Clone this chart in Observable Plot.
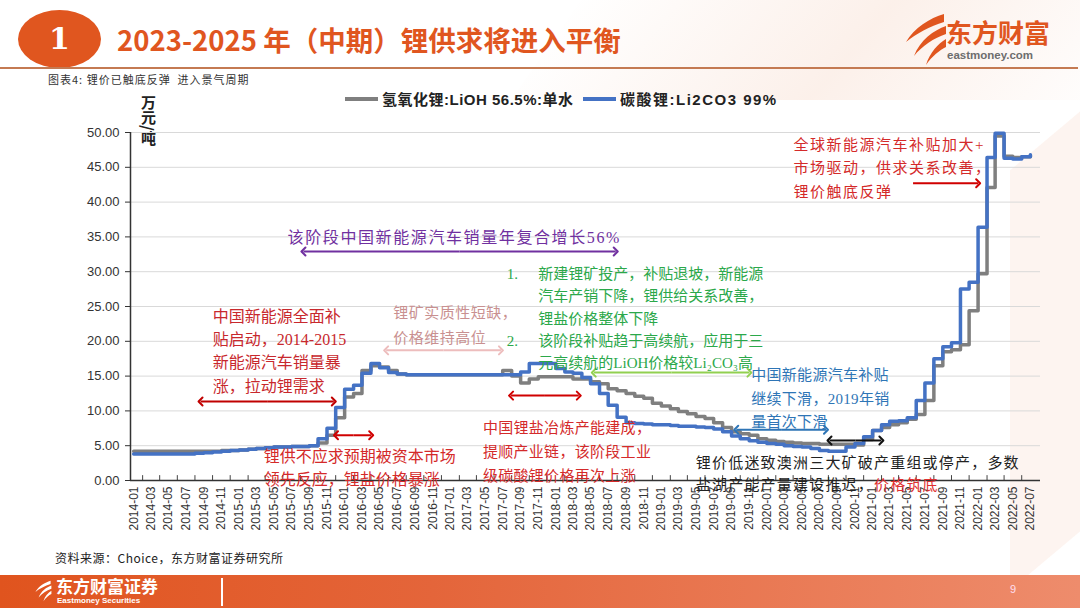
<!DOCTYPE html>
<html><head><meta charset="utf-8">
<script src="https://cdn.jsdelivr.net/npm/d3@7"></script>
<script src="https://cdn.jsdelivr.net/npm/@observablehq/plot@0.6"></script>
<style>
body{margin:0;background:#fff;}
#page{position:relative;width:1080px;height:608px;overflow:hidden;background:#fff;font-family:"Noto Sans CJK SC","Liberation Sans",sans-serif;}
.abs{position:absolute;}
#chart svg{position:absolute;left:0;top:0;}
</style></head><body><div id="page">
<div class="abs" style="left:560px;top:-40px;width:620px;height:140px;background:linear-gradient(100deg,rgba(250,230,220,0) 0%,rgba(248,222,208,0.45) 50%,rgba(250,230,220,0) 100%);transform:skewX(-35deg);"></div>
<div class="abs" style="left:1010px;top:120px;width:120px;height:420px;background:rgba(248,224,212,0.35);transform:skewY(-40deg);"></div>
<div class="abs" style="left:18px;top:10px;width:83px;height:58px;border-radius:50%;background:#E0561F;color:#fff;font-family:'DejaVu Serif','Liberation Serif',serif;font-weight:bold;font-size:30px;line-height:58px;text-align:center;">1</div>
<div class="abs" style="left:117px;top:19px;font-size:27.5px;font-weight:bold;color:#E0561F;white-space:nowrap;">2023-2025 年（中期）锂供求将进入平衡</div>
<svg class="abs" style="left:900px;top:12px;" width="50" height="55" viewBox="0 0 50 55">
<path d="M44,2 C30,6 14,16 6,30 C16,22 30,14 44,10 Z" fill="#E0561F"/>
<path d="M46,14 C34,18 20,28 14,44 C22,34 34,26 46,22 Z" fill="#E0561F"/>
<path d="M46,27 C38,32 30,40 26,53 C32,44 40,38 46,35 Z" fill="#E0561F"/>
</svg>
<div class="abs" style="left:946px;top:16px;font-size:26px;font-weight:bold;color:#E0561F;white-space:nowrap;line-height:32px;">东方财富</div>
<div class="abs" style="left:947px;top:49px;font-family:'Liberation Sans',sans-serif;font-size:11.5px;font-weight:bold;color:#6d6d6d;white-space:nowrap;">eastmoney.com</div>
<div class="abs" style="left:0;top:67px;width:1078px;height:1.5px;background:#C47A52;"></div>
<div class="abs" style="left:48px;top:71px;font-size:11px;color:#333;white-space:nowrap;letter-spacing:1px;">图表4: 锂价已触底反弹&nbsp;&nbsp;进入景气周期</div>
<div id="legend"></div>
<div class="abs" style="left:139px;top:95px;writing-mode:vertical-rl;font-size:15px;font-weight:bold;color:#222;line-height:18px;">万元/吨</div>
<div id="chart" class="abs" style="left:0;top:0;width:1080px;height:560px;"></div>
<div class="abs" style="left:55px;top:549px;font-size:12px;color:#222;white-space:nowrap;letter-spacing:0.5px;">资料来源：Choice，东方财富证券研究所</div>
<div class="abs" style="left:0;top:575px;width:1080px;height:33px;background:linear-gradient(90deg,#E0541E 0%,#E4653A 40%,#EE8C6C 100%);"></div>
<svg class="abs" style="left:33px;top:578px;" width="20" height="26" viewBox="0 0 50 55">
<path d="M44,2 C30,6 14,16 6,30 C16,22 30,14 44,10 Z" fill="#fff"/>
<path d="M46,14 C34,18 20,28 14,44 C22,34 34,26 46,22 Z" fill="#fff"/>
<path d="M46,27 C38,32 30,40 26,53 C32,44 40,38 46,35 Z" fill="#fff"/>
</svg>
<div class="abs" style="left:56px;top:576px;font-size:17px;font-weight:bold;color:#fff;white-space:nowrap;line-height:20px;">东方财富证券</div>
<div class="abs" style="left:57px;top:596px;font-family:'Liberation Sans',sans-serif;font-size:8px;font-weight:bold;color:#fff;white-space:nowrap;">Eastmoney Securities</div>
<div class="abs" style="left:221px;top:578px;width:2px;height:28px;background:#fff;"></div>
<div class="abs" style="left:1010px;top:583px;font-family:'Liberation Sans',sans-serif;font-size:11px;color:#fde;">9</div>
</div>
<script>
// ---- data (monthly, 2014-01 .. 2022-07), 万元/吨 ----
const firstMonth = [2014, 0];
const li2co3 = [
  3.8,3.8,3.8,3.8,3.8,3.8,3.8,
  3.9,4.0,4.1,4.2,4.3,4.4,4.5,4.6,4.7,4.8,4.8,4.9,4.9,
  5.0,6.0,7.5,10.5,13.1,13.7,15.4,16.8,16.2,15.5,15.3,
  15.2,15.2,15.2,15.2,15.2,15.2,15.2,15.2,15.2,15.2,15.2,
  15.2,15.2,15.6,16.8,16.8,16.8,16.1,15.6,15.4,14.8,
  13.9,12.5,10.8,9.1,8.3,8.2,8.1,8.0,8.0,7.9,
  7.8,7.8,7.7,7.6,7.4,7.0,6.4,6.0,5.7,5.5,
  5.3,5.2,5.0,4.9,4.8,4.6,4.3,4.2,4.2,4.8,
  5.3,6.3,7.2,8.0,8.5,8.6,9.0,11.5,14.0,17.5,
  19.2,19.8,27.5,28.5,36.4,46.4,49.9,46.3,46.2,46.5,46.8
];
const lioh = [
  4.2,4.2,4.2,4.2,4.2,4.2,4.2,4.2,4.2,4.2,
  4.3,4.3,4.4,4.5,4.6,4.7,4.8,4.8,4.9,4.9,
  5.0,5.4,6.5,9.0,12.0,12.5,15.8,16.5,16.3,15.8,15.3,
  15.2,15.2,15.2,15.2,15.2,15.2,15.2,15.2,15.2,15.2,15.2,
  15.8,15.0,14.0,14.6,14.9,14.9,14.9,14.9,14.6,14.6,
  14.2,13.9,13.2,12.9,12.5,12.1,11.8,11.1,10.7,10.3,
  9.9,9.6,9.2,8.9,8.3,7.6,7.0,6.7,6.5,6.0,
  5.8,5.6,5.5,5.4,5.3,5.3,5.2,5.2,5.2,5.2,
  5.1,5.9,7.2,7.6,8.0,8.3,8.8,9.5,11.5,16.5,
  18.5,18.8,19.5,24.4,29.7,42.1,49.5,46.6,46.4,46.5,46.7
];
const seriesNames = ["氢氧化锂:LiOH 56.5%:单水", "碳酸锂:Li2CO3 99%"];
const seriesColors = ["#7F7F7F", "#4472C4"];
const yTicks = [0,5,10,15,20,25,30,35,40,45,50];
const xLabelFormat = "%Y-%m";

// annotation texts (position in month index from 2014-01 and value, 万元/吨)
const noteTexts = [
  "该阶段中国新能源汽车销量年复合增长56%",
  "中国新能源全面补\n贴启动，2014-2015\n新能源汽车销量暴\n涨，拉动锂需求",
  "锂矿实质性短缺，\n价格维持高位",
  "新建锂矿投产，补贴退坡，新能源\n汽车产销下降，锂供给关系改善，\n锂盐价格整体下降\n该阶段补贴趋于高续航，应用于三\n元高续航的LiOH价格较Li₂CO₃高",
  "1.",
  "2.",
  "中国锂盐冶炼产能建成，\n提顺产业链，该阶段工业\n级碳酸锂价格再次上涨",
  "锂供不应求预期被资本市场\n领先反应，锂盐价格暴涨",
  "中国新能源汽车补贴\n继续下滑，2019年销\n量首次下滑",
  "锂价低迷致澳洲三大矿破产重组或停产，多数\n盐湖产能产量建设推迟，价格筑底",
  "全球新能源汽车补贴加大+\n市场驱动，供求关系改善，\n锂价触底反弹"
];
const noteM = [17.5, 9.0, 29.5, 46.0, 42.4, 42.4, 39.7, 14.8, 70.2, 63.9, 75.0];
const noteV = [36.5, 25.2, 25.9, 31.2, 31.2, 21.55, 9.3, 5.07, 16.8, 4.0, 49.9];
const noteColors = ["#7030A0","#C8282D","#C99090","#2BA84A","#2BA84A","#2BA84A","#D42A2A","#D42A2A","#2E75B6","#222222","#D42A2A"];
const noteSize = [16, 16, 15, 15, 15, 15, 15, 16, 15, 15, 15];
const noteSpacing = [1.6, 0, 0.5, 0, 0, 0, 0.3, 0, 0.3, 1.2, 1.5];
const noteLH = [1.5, 1.46, 1.67, 1.48, 1.5, 1.5, 1.6, 1.44, 1.57, 1.47, 1.57];
const highlightText = "价格筑底";
const highlightColor = "#E03030";

const arrowM1 = [19.3, 7.6, 28.7, 52.3, 42.9, 23.0, 68.5, 79.1];
const arrowM2 = [54.8, 22.75, 41.75, 70.0, 50.6, 27.0, 78.7, 85.0];
const arrowV  = [32.9, 11.35, 18.7, 15.5, 12.2, 6.5, 7.3, 5.75];
const arrowColors = ["#7030A0","#C00000","#EDBDBD","#92D050","#D00000","#D00000","#2E75B6","#111111"];
const oneWayArrow = {m1: 88.6, m2: 96.0, v: 42.7, c: "#D00000"};

// ---- build ----
const monthDate = i => new Date(Date.UTC(firstMonth[0], firstMonth[1] + i, 1));
const mi = m => new Date(Date.UTC(firstMonth[0], firstMonth[1], 1) + m * 30.44 * 864e5);
const rows = li2co3.map((v, i) => ({date: monthDate(i), li2co3: v, lioh: lioh[i]}));
const lastDate = monthDate(li2co3.length - 1);
const labelDates = d3.utcMonth.every(2).range(monthDate(0), new Date(+lastDate + 1));
const tickDates = d3.utcMonth.range(monthDate(1), new Date(+lastDate + 1)).filter(d => d.getUTCMonth() % 2 === 1);
const notes = noteTexts.map((t, i) => ({t, m: noteM[i], v: noteV[i], c: noteColors[i], fs: noteSize[i], lh: noteLH[i]}));
// double-headed arrows drawn as two halves from the middle outwards
const halves = [];
arrowM1.forEach((m1, i) => {
  const mid = (m1 + arrowM2[i]) / 2;
  halves.push({a: mid, b: m1, v: arrowV[i], c: arrowColors[i]});
  halves.push({a: mid, b: arrowM2[i], v: arrowV[i], c: arrowColors[i]});
});
halves.push({a: oneWayArrow.m1, b: oneWayArrow.m2, v: oneWayArrow.v, c: oneWayArrow.c});

// legend
const legend = document.getElementById("legend");
const legX = [345, 583];
const legSp = [0.5, 1.5];
seriesNames.forEach((n, i) => {
  const sw = document.createElement("div");
  sw.className = "abs";
  sw.style.cssText = `left:${legX[i]}px;top:97px;width:33px;height:3.5px;background:${seriesColors[i]};`;
  legend.appendChild(sw);
  const tx = document.createElement("div");
  tx.className = "abs";
  tx.style.cssText = `left:${legX[i] + 37}px;top:88px;font-family:'Liberation Sans','Noto Sans CJK SC',sans-serif;font-size:15px;letter-spacing:${legSp[i]}px;font-weight:bold;color:#222;white-space:nowrap;`;
  tx.textContent = n;
  legend.appendChild(tx);
});

const x0 = new Date(Date.UTC(2013, 11, 21));
const chart = Plot.plot({
  width: 1080,
  height: 560,
  marginLeft: 130,
  marginRight: 40,
  marginTop: 132,
  marginBottom: 80,
  style: {background: "transparent", overflow: "visible", color: "#333", fontFamily: "'Liberation Sans', Arial, sans-serif"},
  x: {type: "utc", domain: [x0, new Date(Date.UTC(2022, 7, 5))]},
  y: {domain: [0, 50]},
  marks: [
    Plot.ruleY(yTicks.filter(d => d > 0), {stroke: "#D9D9D9", strokeWidth: 1}),
    Plot.axisY({ticks: yTicks, tickFormat: d => d.toFixed(2), fontSize: 13, tickSize: 5, tickPadding: 6}),
    Plot.axisX({ticks: labelDates, tickFormat: d3.utcFormat(xLabelFormat), tickRotate: -90, tickSize: 0, tickPadding: 6, fontSize: 12}),
    Plot.ruleX(tickDates, {y1: 0, y2: 0.7, stroke: "#444", strokeWidth: 1}),
    Plot.line(rows, {x: "date", y: "lioh", stroke: seriesColors[0], strokeWidth: 3.5, curve: "step-after"}),
    Plot.line(rows, {x: "date", y: "li2co3", stroke: seriesColors[1], strokeWidth: 3.5, curve: "step-after"}),
    Plot.ruleX([x0], {y1: 0, y2: 50, stroke: "#333", strokeWidth: 1.5}),
    Plot.ruleY([0], {stroke: "#333", strokeWidth: 1.5}),
    Plot.link(halves, {x1: d => mi(d.a), x2: d => mi(d.b), y1: "v", y2: "v", stroke: "c", strokeWidth: 2, markerEnd: "arrow"}),
    ...notes.map(n => Plot.text([n], {x: d => mi(d.m), y: "v", text: "t", fill: "c", textAnchor: "start", lineAnchor: "top", lineHeight: n.lh, fontSize: n.fs, fontFamily: "'Liberation Serif', 'Noto Sans CJK SC', serif"}))
  ]
});
// letter spacing per note, and the red highlight inside the black note
const groups = chart.querySelectorAll('g[aria-label="text"]');
groups.forEach((g, i) => { g.style.letterSpacing = noteSpacing[i] + "px"; });
groups.forEach(g => {
  g.querySelectorAll("tspan").forEach(ts => {
    const s = ts.textContent;
    if (s.endsWith(highlightText) && s.length > highlightText.length) {
      ts.textContent = s.slice(0, s.length - highlightText.length);
      const red = document.createElementNS("http://www.w3.org/2000/svg", "tspan");
      red.setAttribute("fill", highlightColor);
      red.textContent = highlightText;
      ts.appendChild(red);
    }
  });
});
document.getElementById("chart").appendChild(chart);
</script>
</body></html>
